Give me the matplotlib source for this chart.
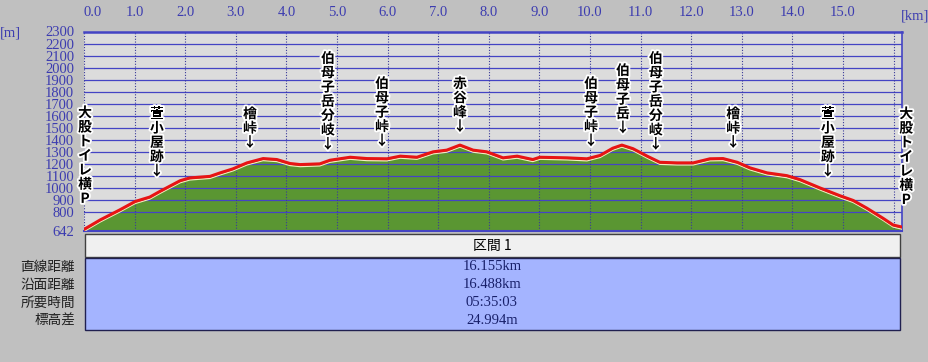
import matplotlib
matplotlib.use('Agg')
import matplotlib.pyplot as plt
import matplotlib.patheffects as pe
import matplotlib.transforms as mtrans
from matplotlib.patches import Rectangle

# ---------------- data ----------------
dist_km = [0.00, 0.32, 0.71, 1.01, 1.30, 1.50, 1.90, 2.09, 2.49, 2.69, 2.94, 3.22,
           3.54, 3.81, 4.07, 4.27, 4.66, 4.86, 5.26, 5.59, 5.99, 6.25, 6.58, 6.90,
           7.17, 7.43, 7.69, 7.96, 8.28, 8.56, 8.87, 9.01, 9.55, 9.94, 10.20, 10.45,
           10.63, 10.85, 11.13, 11.38, 11.72, 12.04, 12.37, 12.63, 12.91, 13.16, 13.50,
           13.89, 14.15, 14.55, 14.94, 15.20, 15.47, 15.79, 15.99, 16.16]
elev_m = [655, 734, 818, 887, 924, 971, 1060, 1083, 1096, 1125, 1158, 1208,
          1244, 1236, 1203, 1194, 1200, 1230, 1255, 1244, 1242, 1264, 1255, 1300,
          1314, 1356, 1314, 1300, 1250, 1264, 1236, 1255, 1250, 1242, 1270, 1330,
          1356, 1326, 1264, 1213, 1208, 1208, 1242, 1244, 1213, 1167, 1125,
          1102, 1069, 999, 935, 896, 832, 748, 692, 675]

x_ticks = [0, 1, 2, 3, 4, 5, 6, 7, 8, 9, 10, 11, 12, 13, 14, 15]
x_tick_labels = ['0.0', '1.0', '2.0', '3.0', '4.0', '5.0', '6.0', '7.0', '8.0',
                 '9.0', '10.0', '11.0', '12.0', '13.0', '14.0', '15.0']
y_ticks = [642, 800, 900, 1000, 1100, 1200, 1300, 1400, 1500, 1600, 1700,
           1800, 1900, 2000, 2100, 2200, 2300]
y_grid = [800, 900, 1000, 1100, 1200, 1300, 1400, 1500, 1600, 1700,
          1800, 1900, 2000, 2100, 2200]
x_grid = [0, 1, 2, 3, 4, 5, 6, 7, 8, 9, 10, 11, 12, 13, 14, 15, 16]

waypoint_names = ['大股トイレ横P', '萱小屋跡↓', '檜峠↓', '伯母子岳分岐↓', '伯母子峠↓',
                  '赤谷峰↓', '伯母子峠↓', '伯母子岳↓', '伯母子岳分岐↓', '檜峠↓',
                  '萱小屋跡↓', '大股トイレ横P']
waypoint_km = [0.02, 1.44, 3.28, 4.82, 5.89, 7.43, 10.02, 10.65, 11.30, 12.83,
               14.70, 16.25]
waypoint_label_top = [1680, 1671, 1671, 2131, 1922, 1922, 1922, 2030, 2131, 1671,
                      1671, 1671]

section_title = '区間 1'
row_labels = ['直線距離', '沿面距離', '所要時間', '標高差']
row_values = ['16.155km', '16.488km', '05:35:03', '24.994m']

# ---------------- figure ----------------
W, H = 929, 362
fig = plt.figure(figsize=(W / 100, H / 100), dpi=100, facecolor='#c0c0c0')

def fx(x):
    return x / W

def fy(y):
    return 1 - y / H

ax = fig.add_axes([fx(84), fy(231), (902 - 84) / W, (231 - 31.5) / H])
ax.set_xlim(0, 16.166)
ax.set_ylim(642, 2300)
ax.set_facecolor('#dcdcdc')

grid_c = '#4444c4'
for y in y_grid:
    ax.axhline(y, color=grid_c, lw=0.9, zorder=2)
for k in x_grid:
    ax.axvline(k, color='#3a3a9a', lw=0.8, ls=(0, (1, 1.5)), zorder=2)

ax.fill_between(dist_km, elev_m, 642, color='#5a9632', lw=0, zorder=1)
under = mtrans.offset_copy(ax.transData, fig=fig, x=0, y=-2.0, units='dots')
ax.plot(dist_km, elev_m, color='#f2eec0', lw=1.0, transform=under, zorder=3,
        solid_joinstyle='round')
ax.plot(dist_km, elev_m, color='#e81414', lw=2.2, zorder=4,
        solid_joinstyle='round', solid_capstyle='round')

for side in ['top', 'bottom', 'right']:
    ax.spines[side].set_color(grid_c)
ax.spines['top'].set_linewidth(1.8)
ax.spines['bottom'].set_linewidth(1.5)
ax.spines['right'].set_linewidth(1.2)
ax.spines['left'].set_visible(False)

tick_c = '#3c3cb0'
ax.xaxis.tick_top()
ax.set_xticks(x_ticks, x_tick_labels)
ax.set_yticks(y_ticks)
ax.tick_params(length=0)
ax.tick_params(axis='x', pad=9, labelcolor=tick_c, labelsize=10.5)
ax.tick_params(axis='y', pad=7, labelcolor=tick_c, labelsize=10.5)
for lab in ax.get_xticklabels() + ax.get_yticklabels():
    lab.set_fontfamily('Liberation Serif')
ax.get_xticklabels()[0].set_horizontalalignment('left')

fig.text(fx(915), fy(16), '[km]', color=tick_c, ha='center', va='center',
         fontsize=10.5, family='Liberation Serif')
fig.text(fx(10), fy(33), '[m]', color=tick_c, ha='center', va='center',
         fontsize=10.5, family='Liberation Serif')

# waypoint labels (vertical)
halo = [pe.withStroke(linewidth=2.6, foreground='white')]
for name, km, top in zip(waypoint_names, waypoint_km, waypoint_label_top):
    for i, ch in enumerate(name):
        ax.annotate(ch, xy=(km, top), xytext=(0, -7 - i * 14.3),
                    textcoords='offset pixels', ha='center', va='center',
                    fontsize=10, fontweight='bold', color='black',
                    family=['Noto Sans CJK JP', 'DejaVu Sans'],
                    path_effects=halo, annotation_clip=False, zorder=6)

# ---------------- table ----------------
fig.patches.append(Rectangle((fx(85), fy(257)), (900 - 85) / W, 23 / H,
                             transform=fig.transFigure, fc='#f0f0f0',
                             ec='#404040', lw=1.0))
fig.patches.append(Rectangle((fx(85), fy(330)), (900 - 85) / W, 72 / H,
                             transform=fig.transFigure, fc='#a4b4ff',
                             ec='#202050', lw=1.0))
fig.text(fx(492), fy(245.5), section_title, ha='center', va='center',
         fontsize=10, color='black', family=['Noto Sans CJK JP', 'DejaVu Sans'])
row_y = [267, 285, 303, 321]
for lab, val, y in zip(row_labels, row_values, row_y):
    fig.text(fx(75), fy(y), lab, ha='right', va='center', fontsize=9.8,
             color='#202020', family=['Noto Sans CJK JP', 'DejaVu Sans'])
    fig.text(fx(492), fy(y), val, ha='center', va='center', fontsize=10.5,
             color='#18206a', family='Liberation Serif')

fig.savefig('out.png', dpi=100, facecolor=fig.get_facecolor())
